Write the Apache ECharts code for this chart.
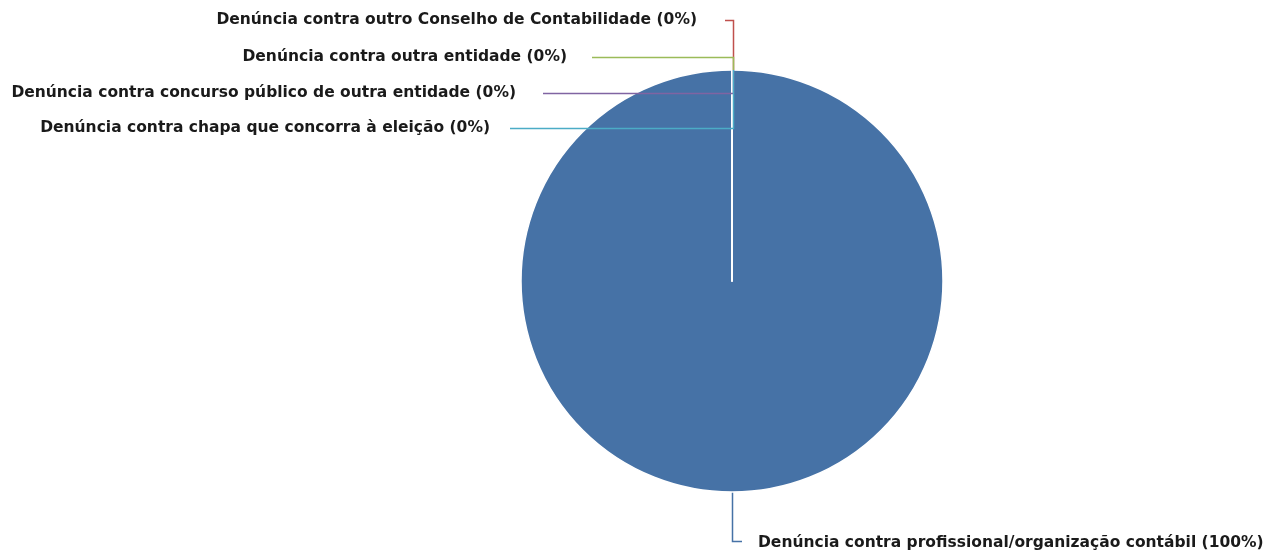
<!DOCTYPE html>
<html>
<head>
<meta charset="utf-8">
<script src="https://cdn.jsdelivr.net/npm/echarts@6/dist/echarts.min.js"></script>
<style>
  html, body { margin: 0; padding: 0; background: #fff; }
  #chart { width: 1265px; height: 551px; }
</style>
</head>
<body>
<div id="chart"></div>
<script>
// categories and values
const categories = [
  'Denúncia contra profissional/organização contábil',
  'Denúncia contra outro Conselho de Contabilidade',
  'Denúncia contra outra entidade',
  'Denúncia contra concurso público de outra entidade',
  'Denúncia contra chapa que concorra à eleição'
]
const values = [100, 0, 0, 0, 0]
const colors = ['#4672A6', '#C0504D', '#9BBB59', '#8064A2', '#4BACC6']

// where each label and its leader line go (pixels)
const labelPlaces = [
  { x: 758, y: 543, align: 'left', line: [[732.5, 492], [732.5, 541.5], [742, 541.5]] },
  { x: 697, y: 20, align: 'right', line: [[733.5, 70], [733.5, 20.5], [725, 20.5]] },
  { x: 567, y: 57, align: 'right', line: [[733.5, 70], [733.5, 57.5], [592, 57.5]] },
  { x: 516, y: 93, align: 'right', line: [[733.5, 70], [733.5, 93.5], [543, 93.5]] },
  { x: 490, y: 128, align: 'right', line: [[733.5, 70], [733.5, 128.5], [510, 128.5]] }
]

const labelFont = {
  formatter: '{b} ({d}%)',
  fontFamily: 'DejaVu Sans',
  fontWeight: 'bold',
  fontSize: 15.5,
  color: '#1a1a1a'
}

function placeLabel(params) {
  const p = labelPlaces[params.dataIndex]
  return {
    x: p.x,
    y: p.y,
    align: p.align,
    verticalAlign: 'middle',
    labelLinePoints: p.line
  }
}

// main pie: slices plus the label of the big slice
const pieData = categories.map(function(name, i) {
  const shown = values[i] > 0
  return {
    name: name,
    value: values[i],
    label: { show: shown },
    labelLine: { show: shown, lineStyle: { color: colors[i], width: 1.5, opacity: 1 } }
  }
})

// top layer: only the leader lines and labels of the empty slices, so they sit over the pie
const topData = categories.map(function(name, i) {
  const shown = values[i] === 0
  return {
    name: name,
    value: values[i],
    label: { show: shown },
    labelLine: { show: shown, lineStyle: { color: colors[i], width: 1.5, opacity: 1 } }
  }
})

const myChart = echarts.init(document.getElementById('chart'))
const option = {
  animation: false,
  color: colors,
  series: [{
    type: 'pie',
    z: 2,
    center: [732, 281],
    radius: 211,
    startAngle: 90,
    clockwise: true,
    avoidLabelOverlap: false,
    data: pieData,
    itemStyle: { borderColor: '#ffffff', borderWidth: 1.5 },
    label: labelFont,
    labelLayout: placeLabel,
    emphasis: { disabled: true }
  }, {
    type: 'pie',
    z: 5,
    silent: true,
    center: [732, 281],
    radius: 211,
    startAngle: 90,
    clockwise: true,
    avoidLabelOverlap: false,
    data: topData,
    itemStyle: { color: 'rgba(0,0,0,0)', borderWidth: 0 },
    label: labelFont,
    labelLayout: placeLabel,
    emphasis: { disabled: true }
  }]
}
myChart.setOption(option)
</script>
</body>
</html>
